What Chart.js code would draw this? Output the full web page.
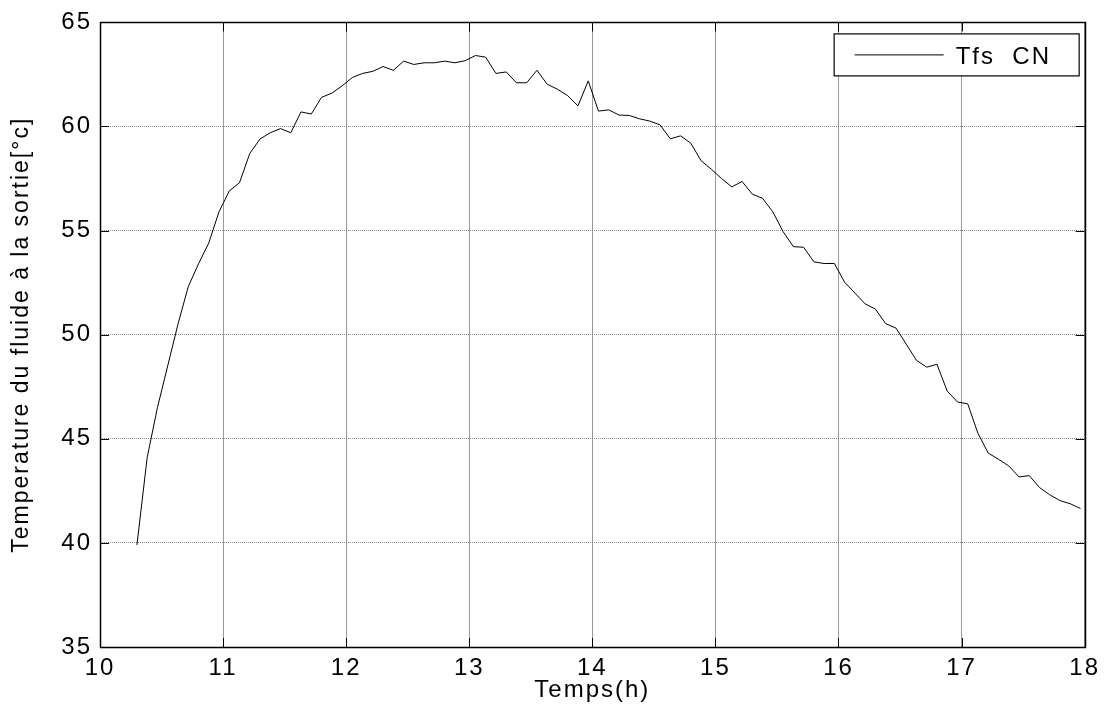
<!DOCTYPE html>
<html>
<head>
<meta charset="utf-8">
<script src="https://cdn.jsdelivr.net/npm/chart.js@4/dist/chart.umd.min.js"></script>
<style>
  html, body { margin: 0; padding: 0; background: #fff; }
  canvas { display: block; }
</style>
</head>
<body>
<canvas id="chart" width="1107" height="713"></canvas>
<script>
// time of each sample (hh:mm), one every 5 minutes
const times = [
  '10:18','10:23','10:28','10:33','10:38','10:43','10:48','10:53','10:58',
  '11:03','11:08','11:13','11:18','11:23','11:28','11:33','11:38','11:43','11:48','11:53','11:58',
  '12:03','12:08','12:13','12:18','12:23','12:28','12:33','12:38','12:43','12:48','12:53','12:58',
  '13:03','13:08','13:13','13:18','13:23','13:28','13:33','13:38','13:43','13:48','13:53','13:58',
  '14:03','14:08','14:13','14:18','14:23','14:28','14:33','14:38','14:43','14:48','14:53','14:58',
  '15:03','15:08','15:13','15:18','15:23','15:28','15:33','15:38','15:43','15:48','15:53','15:58',
  '16:03','16:08','16:13','16:18','16:23','16:28','16:33','16:38','16:43','16:48','16:53','16:58',
  '17:03','17:08','17:13','17:18','17:23','17:28','17:33','17:38','17:43','17:48','17:53','17:58'
];

// Tfs CN, outlet fluid temperature (°C)
const tfsCN = [
  39.9, 44.1, 46.5, 48.5, 50.5, 52.3, 53.4, 54.4, 55.9,
  56.9, 57.3, 58.7, 59.4, 59.7, 59.9, 59.7, 60.7, 60.6, 61.4, 61.6, 61.95,
  62.35, 62.55, 62.65, 62.88, 62.7, 63.14, 62.98, 63.06, 63.06, 63.14, 63.06, 63.16,
  63.41, 63.33, 62.55, 62.62, 62.1, 62.1, 62.7, 62.03, 61.79, 61.48, 60.99, 62.19,
  60.74, 60.8, 60.55, 60.53, 60.37, 60.26, 60.08, 59.41, 59.55, 59.2, 58.36, 57.95,
  57.5, 57.1, 57.36, 56.75, 56.55, 55.9, 54.95, 54.23, 54.2, 53.5, 53.42, 53.42,
  52.52, 52.0, 51.48, 51.23, 50.53, 50.32, 49.55, 48.77, 48.44, 48.58, 47.29, 46.77,
  46.68, 45.26, 44.31, 44.02, 43.7, 43.17, 43.23, 42.66, 42.31, 42.03, 41.88, 41.65
];

const xTicks = [10, 11, 12, 13, 14, 15, 16, 17, 18];
const yTicks = [35, 40, 45, 50, 55, 60, 65];

function toHours(t) {
  const [h, m] = t.split(':').map(Number);
  return h + m / 60;
}

const FONT = '"Liberation Sans", Arial, sans-serif';

// the original text is a wide helvetica, so spread the letters a bit
const spacing = {
  id: 'spacing',
  beforeUpdate(chart) { chart.ctx.letterSpacing = '2px'; },
  beforeDraw(chart) { chart.ctx.letterSpacing = '2px'; }
};

// matlab-ish box with inward ticks + legend box
const frame = {
  id: 'frame',
  afterDraw(chart) {
    const { ctx, chartArea: a, scales } = chart;
    ctx.save();
    ctx.strokeStyle = '#000';
    ctx.lineWidth = 1;
    const tl = 9;
    ctx.beginPath();
    xTicks.forEach(v => {
      const px = Math.round(scales.x.getPixelForValue(v)) + 0.5;
      ctx.moveTo(px, a.bottom); ctx.lineTo(px, a.bottom - tl);
      ctx.moveTo(px, a.top); ctx.lineTo(px, a.top + tl);
    });
    yTicks.forEach(v => {
      const py = Math.round(scales.y.getPixelForValue(v)) + 0.5;
      ctx.moveTo(a.left, py); ctx.lineTo(a.left + tl, py);
      ctx.moveTo(a.right, py); ctx.lineTo(a.right - tl, py);
    });
    ctx.stroke();
    ctx.lineWidth = 1.5;
    ctx.strokeRect(Math.round(a.left) + 0.5, Math.round(a.top) + 0.5,
      Math.round(a.right - a.left), Math.round(a.bottom - a.top));

    // legend
    const bx = a.right - 251, by = a.top + 11, bw = 245, bh = 42;
    ctx.fillStyle = '#fff';
    ctx.fillRect(bx, by, bw, bh);
    ctx.lineWidth = 1.2;
    ctx.strokeRect(bx + 0.5, by + 0.5, bw, bh);
    ctx.lineWidth = 1;
    ctx.beginPath();
    ctx.moveTo(bx + 21, by + 21.5);
    ctx.lineTo(bx + 110, by + 21.5);
    ctx.stroke();
    ctx.fillStyle = '#000';
    ctx.font = '24px ' + FONT;
    ctx.letterSpacing = '2px';
    ctx.textBaseline = 'middle';
    ctx.fillText(chart.data.datasets[0].label, bx + 122, by + 23.5);
    ctx.restore();
  }
};

new Chart(document.getElementById('chart'), {
  type: 'line',
  data: {
    datasets: [{
      label: 'Tfs  CN',
      data: times.map((t, i) => ({ x: toHours(t), y: tfsCN[i] })),
      borderColor: '#000',
      borderWidth: 1,
      pointRadius: 0,
      tension: 0,
      fill: false,
    }]
  },
  options: {
    responsive: false,
    animation: false,
    devicePixelRatio: 1,
    layout: { padding: { top: 22, right: 20, left: 0, bottom: 0 } },
    plugins: { legend: { display: false }, tooltip: { enabled: false } },
    scales: {
      x: {
        type: 'linear',
        min: 10, max: 18,
        afterBuildTicks: s => { s.ticks = xTicks.map(v => ({ value: v })); },
        afterFit: s => { s.height = 66; },
        border: { display: false },
        grid: { color: '#999', lineWidth: 1, drawTicks: false },
        ticks: { padding: 7, color: '#000', font: { family: FONT, size: 24 }, maxRotation: 0 },
        title: { display: true, text: 'Temps(h)', color: '#000', font: { family: FONT, size: 24 }, padding: { top: 0, bottom: 8 } }
      },
      y: {
        min: 35, max: 65,
        afterBuildTicks: s => { s.ticks = yTicks.map(v => ({ value: v })); },
        afterFit: s => { s.width = 100; },
        border: { display: false, dash: [1, 1] },
        grid: { color: '#8a8a8a', lineWidth: 1, drawTicks: false },
        ticks: { padding: 8, color: '#000', font: { family: FONT, size: 24 } },
        title: { display: true, text: 'Temperature du fluide à la sortie[°c]', color: '#000', font: { family: FONT, size: 23 }, padding: { top: 8, bottom: 0 } }
      }
    }
  },
  plugins: [spacing, frame]
});
</script>
</body>
</html>
